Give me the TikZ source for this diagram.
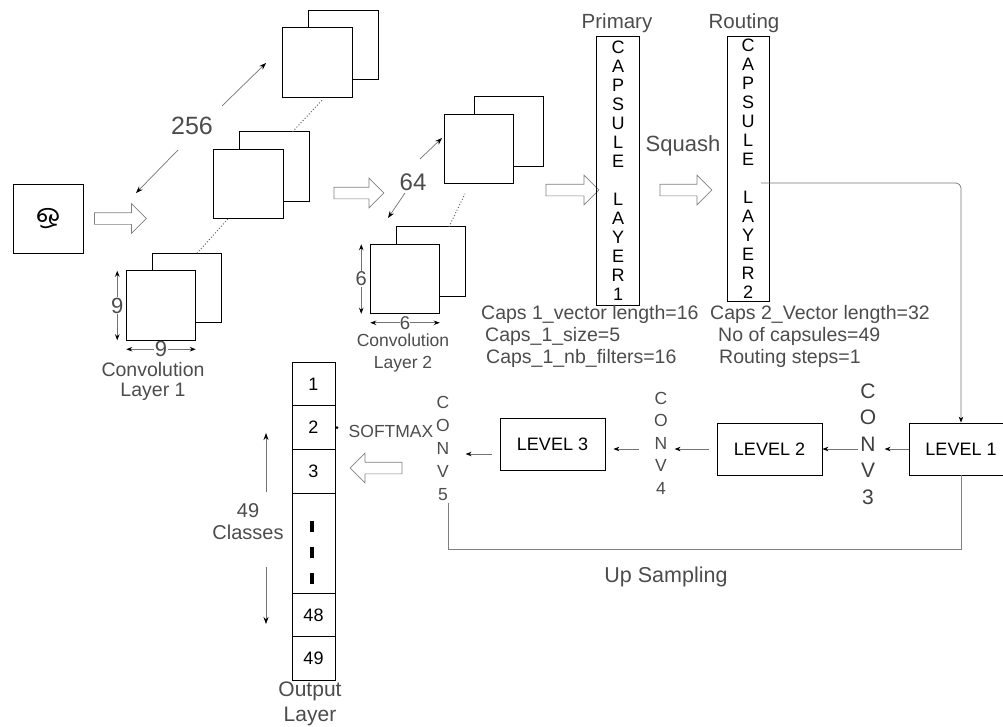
\documentclass[tikz,border=0pt]{standalone}
\usepackage{fontspec}
\setmainfont{Liberation Sans}
\newfontfamily\tafont[Script=Tamil]{Hind Madurai}
\usetikzlibrary{arrows.meta,positioning,shapes.arrows,calc}

\definecolor{ink}{gray}{0.3}
\newcommand{\fsz}[2]{\fontsize{#1}{#2}\selectfont}

\begin{document}
\begin{tikzpicture}[x=1pt,y=-1pt,
  fmap/.style={draw,fill=white,line width=0.8pt,minimum size=69.5pt,inner sep=0pt,outer sep=0pt},
  hollow/.style={single arrow,draw=black!50,fill=white,line width=0.7pt,inner sep=5.5pt,
                 outer sep=0pt,single arrow head extend=9pt,minimum height=52pt},
  capsbox/.style={draw,line width=0.8pt,minimum width=43pt,align=center,inner sep=0pt,font=\fsz{18}{19}},
  lvl/.style={draw,line width=0.8pt,minimum width=105pt,minimum height=52pt,inner sep=0pt,font=\fsz{18}{18}},
  cell/.style={draw,line width=0.8pt,minimum width=43pt,minimum height=43.6pt,inner sep=0pt,outer sep=0pt,font=\fsz{18}{18}},
  lbl/.style={text=ink,inner sep=1pt,align=center},
  conv/.style={text=ink,inner sep=2pt,align=center},
  capstxt/.style={text=ink,anchor=west,inner sep=0pt,font=\fsz{19.5}{22}},
  dimarr/.style={draw=black!55,line width=0.7pt,-{Stealth[length=7pt,width=5pt,color=black]}},
  dimboth/.style={draw=black!55,line width=0.7pt,
                  {Stealth[length=6pt,width=4.5pt,color=black]}-{Stealth[length=6pt,width=4.5pt,color=black]}},
  dimlbl/.style={fill=white,text=ink,inner sep=0.5pt,font=\fsz{22}{22}},
  link/.style={draw=black!55,line width=0.7pt,-{Stealth[length=6pt,width=4.5pt,color=black]}},
  upline/.style={draw=black!50,line width=0.7pt},
  dotline/.style={draw=black!60,line width=1pt,dotted}]

  \useasboundingbox (0,0) rectangle (1003,726);

  % input character
  \node[draw,line width=0.8pt,minimum width=70pt,minimum height=69pt,inner sep=0pt] (inp) at (48,218.5)
    {\tafont\fsz{27}{27}ஒ};

  % hollow arrows
  \node[hollow] (ha1) at (117.5,218.5) {};
  \node[hollow,minimum height=50pt] (ha2) at (356,193) {};
  \node[hollow,minimum height=53pt] (ha3) at (569.5,190) {};
  \node[hollow] (ha4) at (683,190) {};
  \node[hollow,shape border rotate=180] (ha5) at (379,468) {};

  % feature maps (back square, then front square)
  \foreach \nm/\px/\py/\dx in {l1a/317.5/62.5/26, l1b/248.5/184/26, l1c/161/305.5/26,
                               l2a/479/149/30, l2b/405/279/26}{
    \node[fmap] (\nm-back) at (\px+\dx,\py-17.5) {};
    \node[fmap] (\nm) at (\px,\py) {};
  }
  \draw[dotline] ([xshift=10pt]l1c-back.north) -- ([xshift=-19.5pt,yshift=1pt]l1b.south);
  \draw[dotline] ([xshift=18pt]l1b-back.north) -- ([xshift=5.5pt,yshift=-2pt]l1a.south);
  \draw[dotline] ([xshift=18pt]l2b-back.north) -- ([xshift=-14pt,yshift=-10pt]l2a.south);

  % counts
  \node[lbl,font=\fsz{25}{25}] (n256) at (192,126) {256};
  \draw[dimarr] (222,106) -- (266,63);
  \draw[dimarr] (178,150) -- (136,193);
  \node[lbl,font=\fsz{24}{24}] (n64) at (413,182) {64};
  \draw[dimarr] (420,159) -- (442,138);
  \draw[dimarr] (405,193) -- (388,218);

  % kernel sizes
  \draw[dimboth] ([xshift=-9pt]l1c.north west) -- ([xshift=-9pt]l1c.south west) node[midway,dimlbl] {9};
  \draw[dimboth] ([yshift=-9pt]l1c.south west) -- ([yshift=-9pt]l1c.south east) node[midway,dimlbl] {9};
  \draw[dimboth] ([xshift=-9pt]l2b.north west) -- ([xshift=-9pt]l2b.south west) node[midway,dimlbl,font=\fsz{20}{20}] {6};
  \draw[dimboth] ([yshift=-9pt]l2b.south west) -- ([yshift=-9pt]l2b.south east)
    node[midway,dimlbl,inner sep=0pt,font=\fsz{18.5}{18.5}] {6};

  \node[lbl,font=\fsz{19.5}{20}] (conv1) at (153,381) {Convolution\\Layer 1};
  \node[lbl,inner sep=0pt,font=\fsz{17.5}{22}] (conv2) at (403,353) {Convolution\\Layer 2};

  % capsule layers
  \node[capsbox,minimum height=269pt] (prim) at (618,170.5)
    {C\\A\\P\\S\\U\\L\\E\\\mbox{}\\L\\A\\Y\\E\\R\\1};
  \node[capsbox,minimum width=42pt,minimum height=265pt] (rout) at (748,168.5)
    {C\\A\\P\\S\\U\\L\\E\\\mbox{}\\L\\A\\Y\\E\\R\\2};
  \node[lbl,font=\fsz{20.5}{20}] (primlbl) at (617,23) {Primary};
  \node[lbl,font=\fsz{20.5}{20}] (routlbl) at (744,23) {Routing};
  \node[lbl,font=\fsz{22}{22}] (squash) at (683,146) {Squash};

  \node[capstxt] (ca1) at (481,314) {Caps 1\_vector length=16};
  \node[capstxt] (ca2) at (485,336) {Caps\_1\_size=5};
  \node[capstxt] (ca3) at (486,358) {Caps\_1\_nb\_filters=16};
  \node[capstxt] (cb1) at (710,314) {Caps 2\_Vector length=32};
  \node[capstxt] (cb2) at (718,336) {No of capsules=49};
  \node[capstxt] (cb3) at (719,358) {Routing steps=1};

  % decoder levels
  \node[lvl,minimum width=104pt] (lev1) at (961,449) {LEVEL 1};
  \node[lvl] (lev2) at (769.5,449) {LEVEL 2};
  \node[lvl] (lev3) at (552.5,444) {LEVEL 3};
  \node[conv,text=black!75,font=\fsz{21}{26.5}] (conv3) at (868,444) {C\\O\\N\\V\\3};
  \node[conv,font=\fsz{17.5}{22.5}] (conv4) at (661,443) {C\\O\\N\\V\\4};
  \node[conv,font=\fsz{17.5}{23.2}] (conv5) at (443,448.5) {C\\O\\N\\V\\5};

  \coordinate (rtap) at (761,183);
  \draw[link,rounded corners=5pt] (rtap) -| (lev1.north);
  \draw[link] (lev1.west) -- ++(-24,0);
  \draw[link] (conv3.west |- lev2.east) -- (lev2.east);
  \draw[link] ([xshift=-8pt]lev2.west) -- ++(-34,0);
  \draw[link] ($(conv4.center)+(-22,6)$) -- ($(lev3.east)+(8,5)$);
  \draw[link] ($(lev3.west)+(-8,10)$) -- ++(-26,0);

  \coordinate (upl) at (448,549);
  \draw[upline] (lev1.south) |- (upl) -- (conv5.south -| upl);
  \node[lbl,font=\fsz{21.5}{22}] (upsamp) at (666,577) {Up Sampling};

  % output layer
  \node[cell] (o1) at (313.5,384) {1};
  \node[cell] (o2) [below=0pt of o1] {2};
  \node[cell] (o3) [below=0pt of o2] {3};
  \node[cell,minimum height=100pt] (odots) [below=0pt of o3] {};
  \node[cell] (o48) [below=0pt of odots] {48};
  \node[cell] (o49) [below=0pt of o48] {49};
  \foreach \k in {-17,9,35}
    \draw[line width=3.5pt] ($(odots.center)+(-1.5,\k-5.5)$) -- ++(0,11);
  \node[lbl,font=\fsz{21}{25}] (outlbl) at (310,704) {Output\\Layer};

  \fill ($(o2.east)+(2,0)$) circle (1.4pt);
  \node[lbl,font=\fsz{17.5}{18}] (smax) at (391,431) {SOFTMAX};

  \node[lbl,font=\fsz{20}{22}] (ncls) at (248,522) {49\\Classes};
  \draw[dimarr] ($(ncls.center)+(18,-30)$) -- ++(0,-59);
  \draw[dimarr] ($(ncls.center)+(18,45)$) -- ++(0,57);
\end{tikzpicture}
\end{document}
